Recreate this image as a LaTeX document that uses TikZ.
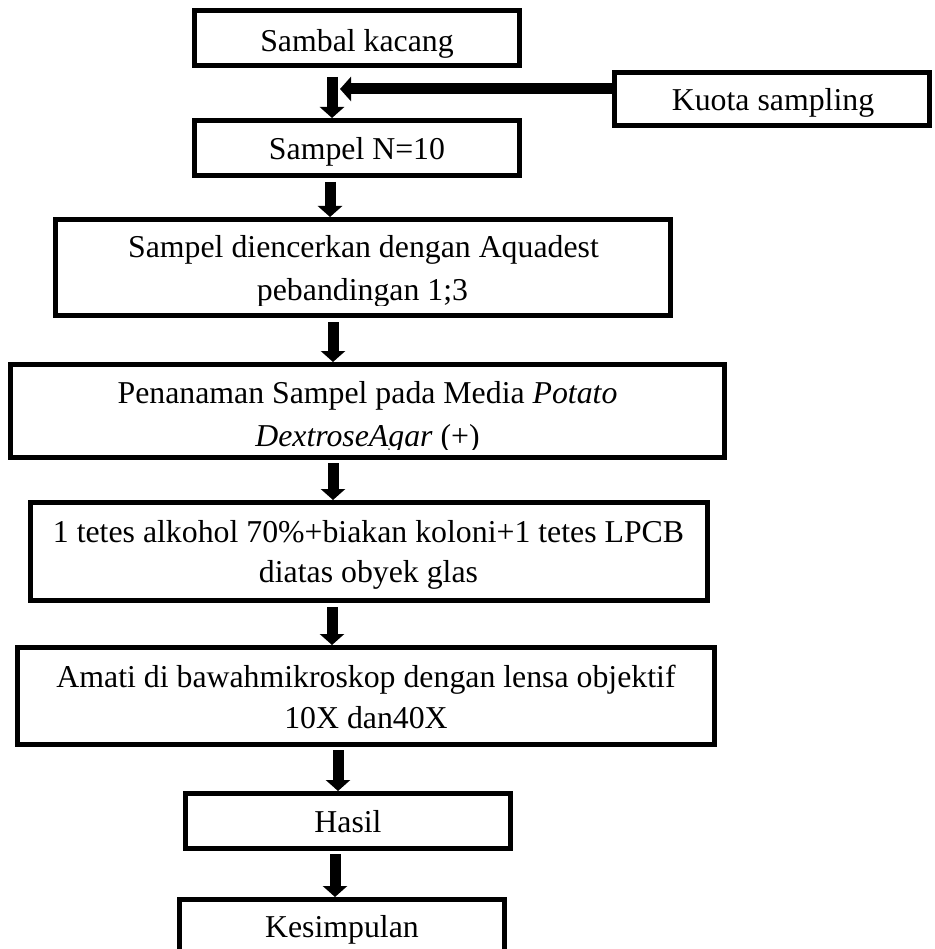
\documentclass[tikz,border=0pt]{standalone}
\usepackage{fontspec}
\setmainfont{Liberation Serif}
\usetikzlibrary{arrows.meta}
\newcommand\mybox[5]{\node[box, minimum width={(#4-#2-5)*1pt}, minimum height={(#5-#3-5)*1pt}] (#1) at ({(#2+#4)/2},{(#3+#5)/2}) {};}
\begin{document}
\begin{tikzpicture}[x=1pt,y=-1pt,
  box/.style={draw, line width=5pt, rectangle, inner sep=0pt},
  arr/.style={line width=11pt, -{Triangle[width=24pt,length=11pt]}},
  txt/.style={anchor=base, inner sep=0pt, font=\fontsize{31.8}{41.5}\selectfont}]
\useasboundingbox (0,0) rectangle (934,949);
% boxes
\mybox{b1}{192}{8}{522}{68}
\mybox{kq}{612}{70}{932}{128}
\mybox{b2}{192}{118}{522}{178}
\mybox{b3}{53}{217}{673}{318}
\mybox{b4}{8}{362}{727}{460}
\mybox{b5}{28}{500}{710}{603}
\mybox{b6}{15}{645}{717}{747}
\mybox{b7}{183}{791}{513}{851}
\mybox{b8}{177}{897}{507}{962}
% texts
\begin{scope}
\clip (0,0) rectangle (934,57.5);
\node[txt] (t1) at (357,52) {Sambal kacang};
\end{scope}
\node[txt] (tk) at (773,111) {Kuota sampling};
\node[txt] (t2) at (357,160) {Sampel N=10};
\node[txt] (t3a) at (363.5,258) {Sampel diencerkan dengan Aquadest};
\begin{scope}
\clip (0,270) rectangle (934,305);
\node[txt] (t3b) at (362.5,300) {pebandingan 1;3};
\end{scope}
\node[txt] (t4a) at (367.5,403) {Penanaman Sampel pada Media \textit{Potato}};
\begin{scope}
\clip (0,410) rectangle (934,449);
\node[txt] (t4b) at (367.5,446) {\textit{DextroseAgar} (+)};
\end{scope}
\node[txt] (t5a) at (368.5,542) {1 tetes alkohol 70\%+biakan koloni+1 tetes LPCB};
\node[txt] (t5b) at (368.5,582) {diatas obyek glas};
\node[txt] (t6a) at (366,687) {Amati di bawahmikroskop dengan lensa objektif};
\node[txt] (t6b) at (366,728) {10X dan40X};
\node[txt] (t7) at (348,832) {Hasil};
\node[txt] (t8) at (342,937) {Kesimpulan};
% arrow start points
\coordinate (s1) at (332,77);
\coordinate (s2) at (330,182);
\coordinate (s3) at (333,322);
\coordinate (s4) at (333,463);
\coordinate (s5) at (332,607);
\coordinate (s6) at (338,750);
\coordinate (s7) at (335,854);
\coordinate (sk) at (340,89);
% connectors
\draw[arr] (s1) -- (b2.north -| s1);
\draw[arr] (s2) -- (b3.north -| s2);
\draw[arr] (s3) -- (b4.north -| s3);
\draw[arr] (s4) -- (b5.north -| s4);
\draw[arr] (s5) -- (b6.north -| s5);
\draw[arr] (s6) -- (b7.north -| s6);
\draw[arr] (s7) -- (b8.north -| s7);
\draw[arr] (kq.west |- sk) -- (sk);
\end{tikzpicture}
\end{document}
